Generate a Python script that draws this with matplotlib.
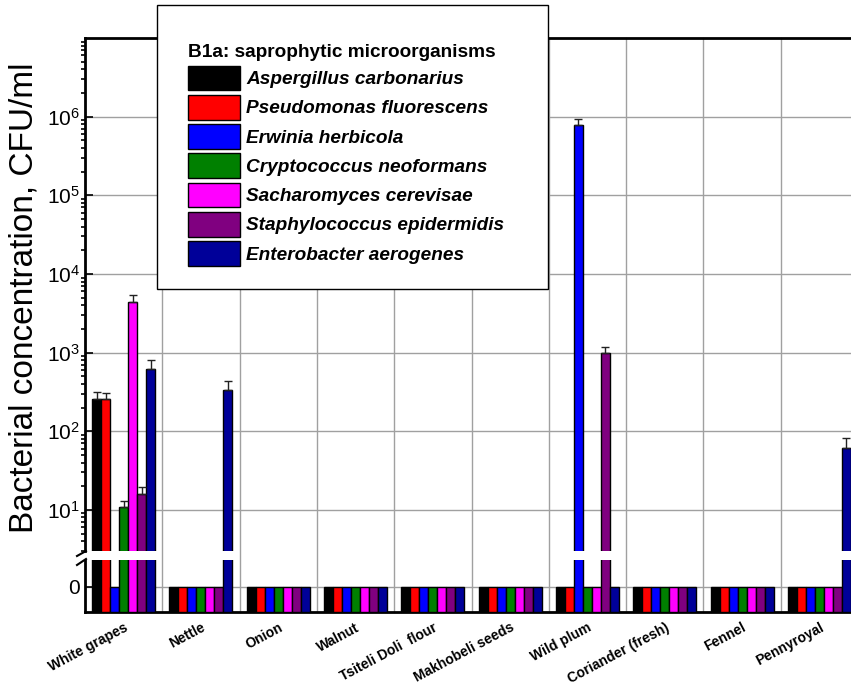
import numpy as np
import matplotlib
matplotlib.use('Agg')
import matplotlib.pyplot as plt
import matplotlib.transforms as mtransforms
from matplotlib.patches import Patch, Rectangle
from matplotlib.lines import Line2D
from matplotlib.ticker import LogLocator, NullFormatter

plt.rcParams['font.family'] = ['Liberation Sans', 'DejaVu Sans']
plt.rcParams['mathtext.fontset'] = 'custom'
plt.rcParams['mathtext.rm'] = 'Liberation Sans'

categories = ['White grapes', 'Nettle', 'Onion', 'Walnut', 'Tsiteli Doli  flour',
              'Makhobeli seeds', 'Wild plum', 'Coriander (fresh)', 'Fennel', 'Pennyroyal']

species = ['Aspergillus carbonarius', 'Pseudomonas fluorescens', 'Erwinia herbicola',
           'Cryptococcus neoformans', 'Sacharomyces cerevisae', 'Staphylococcus epidermidis',
           'Enterobacter aerogenes']
colors = ['#000000', '#ff0000', '#0000ff', '#008000', '#ff00ff', '#800080', '#000099']

# CFU/ml per species, one value per category
aspergillus = [260, 0, 0, 0, 0, 0, 0, 0, 0, 0]
pseudomonas = [260, 0, 0, 0, 0, 0, 0, 0, 0, 0]
erwinia = [0, 0, 0, 0, 0, 0, 780000, 0, 0, 0]
cryptococcus = [11, 0, 0, 0, 0, 0, 0, 0, 0, 0]
sacharomyces = [4400, 0, 0, 0, 0, 0, 0, 0, 0, 0]
staphylococcus = [16, 0, 0, 0, 0, 0, 1000, 0, 0, 0]
enterobacter = [620, 330, 0, 0, 0, 0, 0, 0, 0, 61]

# upper error (SD)
aspergillus_err = [55, 0, 0, 0, 0, 0, 0, 0, 0, 0]
pseudomonas_err = [42, 0, 0, 0, 0, 0, 0, 0, 0, 0]
erwinia_err = [0, 0, 0, 0, 0, 0, 160000, 0, 0, 0]
cryptococcus_err = [2, 0, 0, 0, 0, 0, 0, 0, 0, 0]
sacharomyces_err = [950, 0, 0, 0, 0, 0, 0, 0, 0, 0]
staphylococcus_err = [3.5, 0, 0, 0, 0, 0, 190, 0, 0, 0]
enterobacter_err = [180, 100, 0, 0, 0, 0, 0, 0, 0, 20]

series = [aspergillus, pseudomonas, erwinia, cryptococcus, sacharomyces, staphylococcus, enterobacter]
errors = [aspergillus_err, pseudomonas_err, erwinia_err, cryptococcus_err,
          sacharomyces_err, staphylococcus_err, enterobacter_err]

W, H = 851, 689
fig = plt.figure(figsize=(W / 100, H / 100), dpi=100)

def fig_box(x0, y0, x1, y1):
    return [x0 / W, 1 - y1 / H, (x1 - x0) / W, (y1 - y0) / H]

ax = fig.add_axes(fig_box(85, 38, 858, 551))      # log part
axb = fig.add_axes(fig_box(85, 560, 858, 612))    # zero part
ax.patch.set_alpha(0)
axb.patch.set_alpha(0)

x = np.arange(len(categories))
n = len(series)
bw = 0.1164
grid_c = '#a0a0a0'

for i, (vals, err, c) in enumerate(zip(series, errors, colors)):
    vals = np.array(vals, dtype=float)
    err = np.array(err, dtype=float)
    xi = x + (i - (n - 1) / 2) * bw
    ax.bar(xi, vals, width=bw, color=c, edgecolor='black', linewidth=1, zorder=3)
    m = vals > 0
    ax.errorbar(xi[m], vals[m], yerr=[np.zeros(m.sum()), err[m]], fmt='none',
                ecolor='#222222', elinewidth=1, capsize=3, capthick=1, zorder=4)
    # lower panel: zero values end at 0, non-zero ones run through the break
    h = np.where(vals > 0, 10.0, 1.0)
    axb.bar(xi, h, bottom=-1, width=bw, color=c, edgecolor='black', linewidth=1, zorder=3)

ax.set_yscale('log')
ax.set_ylim(3, 1e7)
ax.set_xlim(-0.5, len(categories) - 0.5)
ax.set_yticks([1e1, 1e2, 1e3, 1e4, 1e5, 1e6])
ax.yaxis.set_minor_locator(LogLocator(base=10, subs=np.arange(2, 10), numticks=20))
ax.yaxis.set_minor_formatter(NullFormatter())
ax.tick_params(axis='y', which='major', direction='in', length=6, width=1.2, labelsize=15)
ax.tick_params(axis='y', which='minor', direction='out', length=3, width=1.2)
ax.set_xticks([])
ax.grid(True, which='major', axis='y', color=grid_c, lw=1)
ax.set_axisbelow(True)
ax.spines['left'].set_linewidth(2)
ax.spines['top'].set_linewidth(2)
ax.spines['right'].set_visible(False)
ax.spines['bottom'].set_visible(False)

axb.set_ylim(-1, 1.08)
axb.set_xlim(-0.5, len(categories) - 0.5)
axb.set_yticks([0])
axb.set_yticklabels(['0'])
axb.tick_params(axis='y', direction='in', length=6, width=1.2, labelsize=15)
axb.set_xticks(x)
axb.set_xticklabels(categories, rotation=28, ha='right', va='top',
                    rotation_mode='anchor', fontsize=10, fontweight='bold')
axb.tick_params(axis='x', which='both', length=0, pad=6)
axb.grid(True, which='major', axis='y', color=grid_c, lw=1)
axb.set_axisbelow(True)
axb.spines['left'].set_linewidth(2)
axb.spines['bottom'].set_linewidth(2)
axb.spines['top'].set_visible(False)
axb.spines['right'].set_visible(False)

# category separators run through both panels and the break
sep = mtransforms.blended_transform_factory(ax.transData, fig.transFigure)
for xs in x[:-1] + 0.5:
    fig.add_artist(Line2D([xs, xs], [1 - 612 / H, 1 - 38 / H], transform=sep,
                          color=grid_c, lw=1, zorder=-1))

# break marks on the y axis
for y0, y1 in [(556, 551), (565, 559)]:
    fig.add_artist(Line2D([77 / W, 86 / W], [1 - y0 / H, 1 - y1 / H],
                          color='black', lw=1.5))

fig.text(24 / W, 1 - 298 / H, 'Bacterial concentration, CFU/ml', rotation=90,
         ha='center', va='center', fontsize=24)

# legend box
fig.add_artist(Rectangle((157 / W, 1 - 289 / H), (548 - 157) / W, (289 - 5) / H,
                         transform=fig.transFigure, facecolor='white',
                         edgecolor='black', lw=1, zorder=4))
handles = [Patch(facecolor=c, edgecolor='black', lw=1) for c in colors]
leg = fig.legend(handles, species, loc='upper left', bbox_to_anchor=(188 / W, 1 - 44 / H),
                 frameon=False, borderpad=0, borderaxespad=0,
                 prop={'weight': 'bold', 'style': 'italic', 'size': 13.7},
                 title='B1a: saprophytic microorganisms',
                 title_fontproperties={'weight': 'bold', 'size': 13.7},
                 handlelength=2.75, handleheight=1.62, handletextpad=0.3,
                 labelspacing=0.24, alignment='left')
leg.set_zorder(5)

fig.savefig('out.png', dpi=100)
